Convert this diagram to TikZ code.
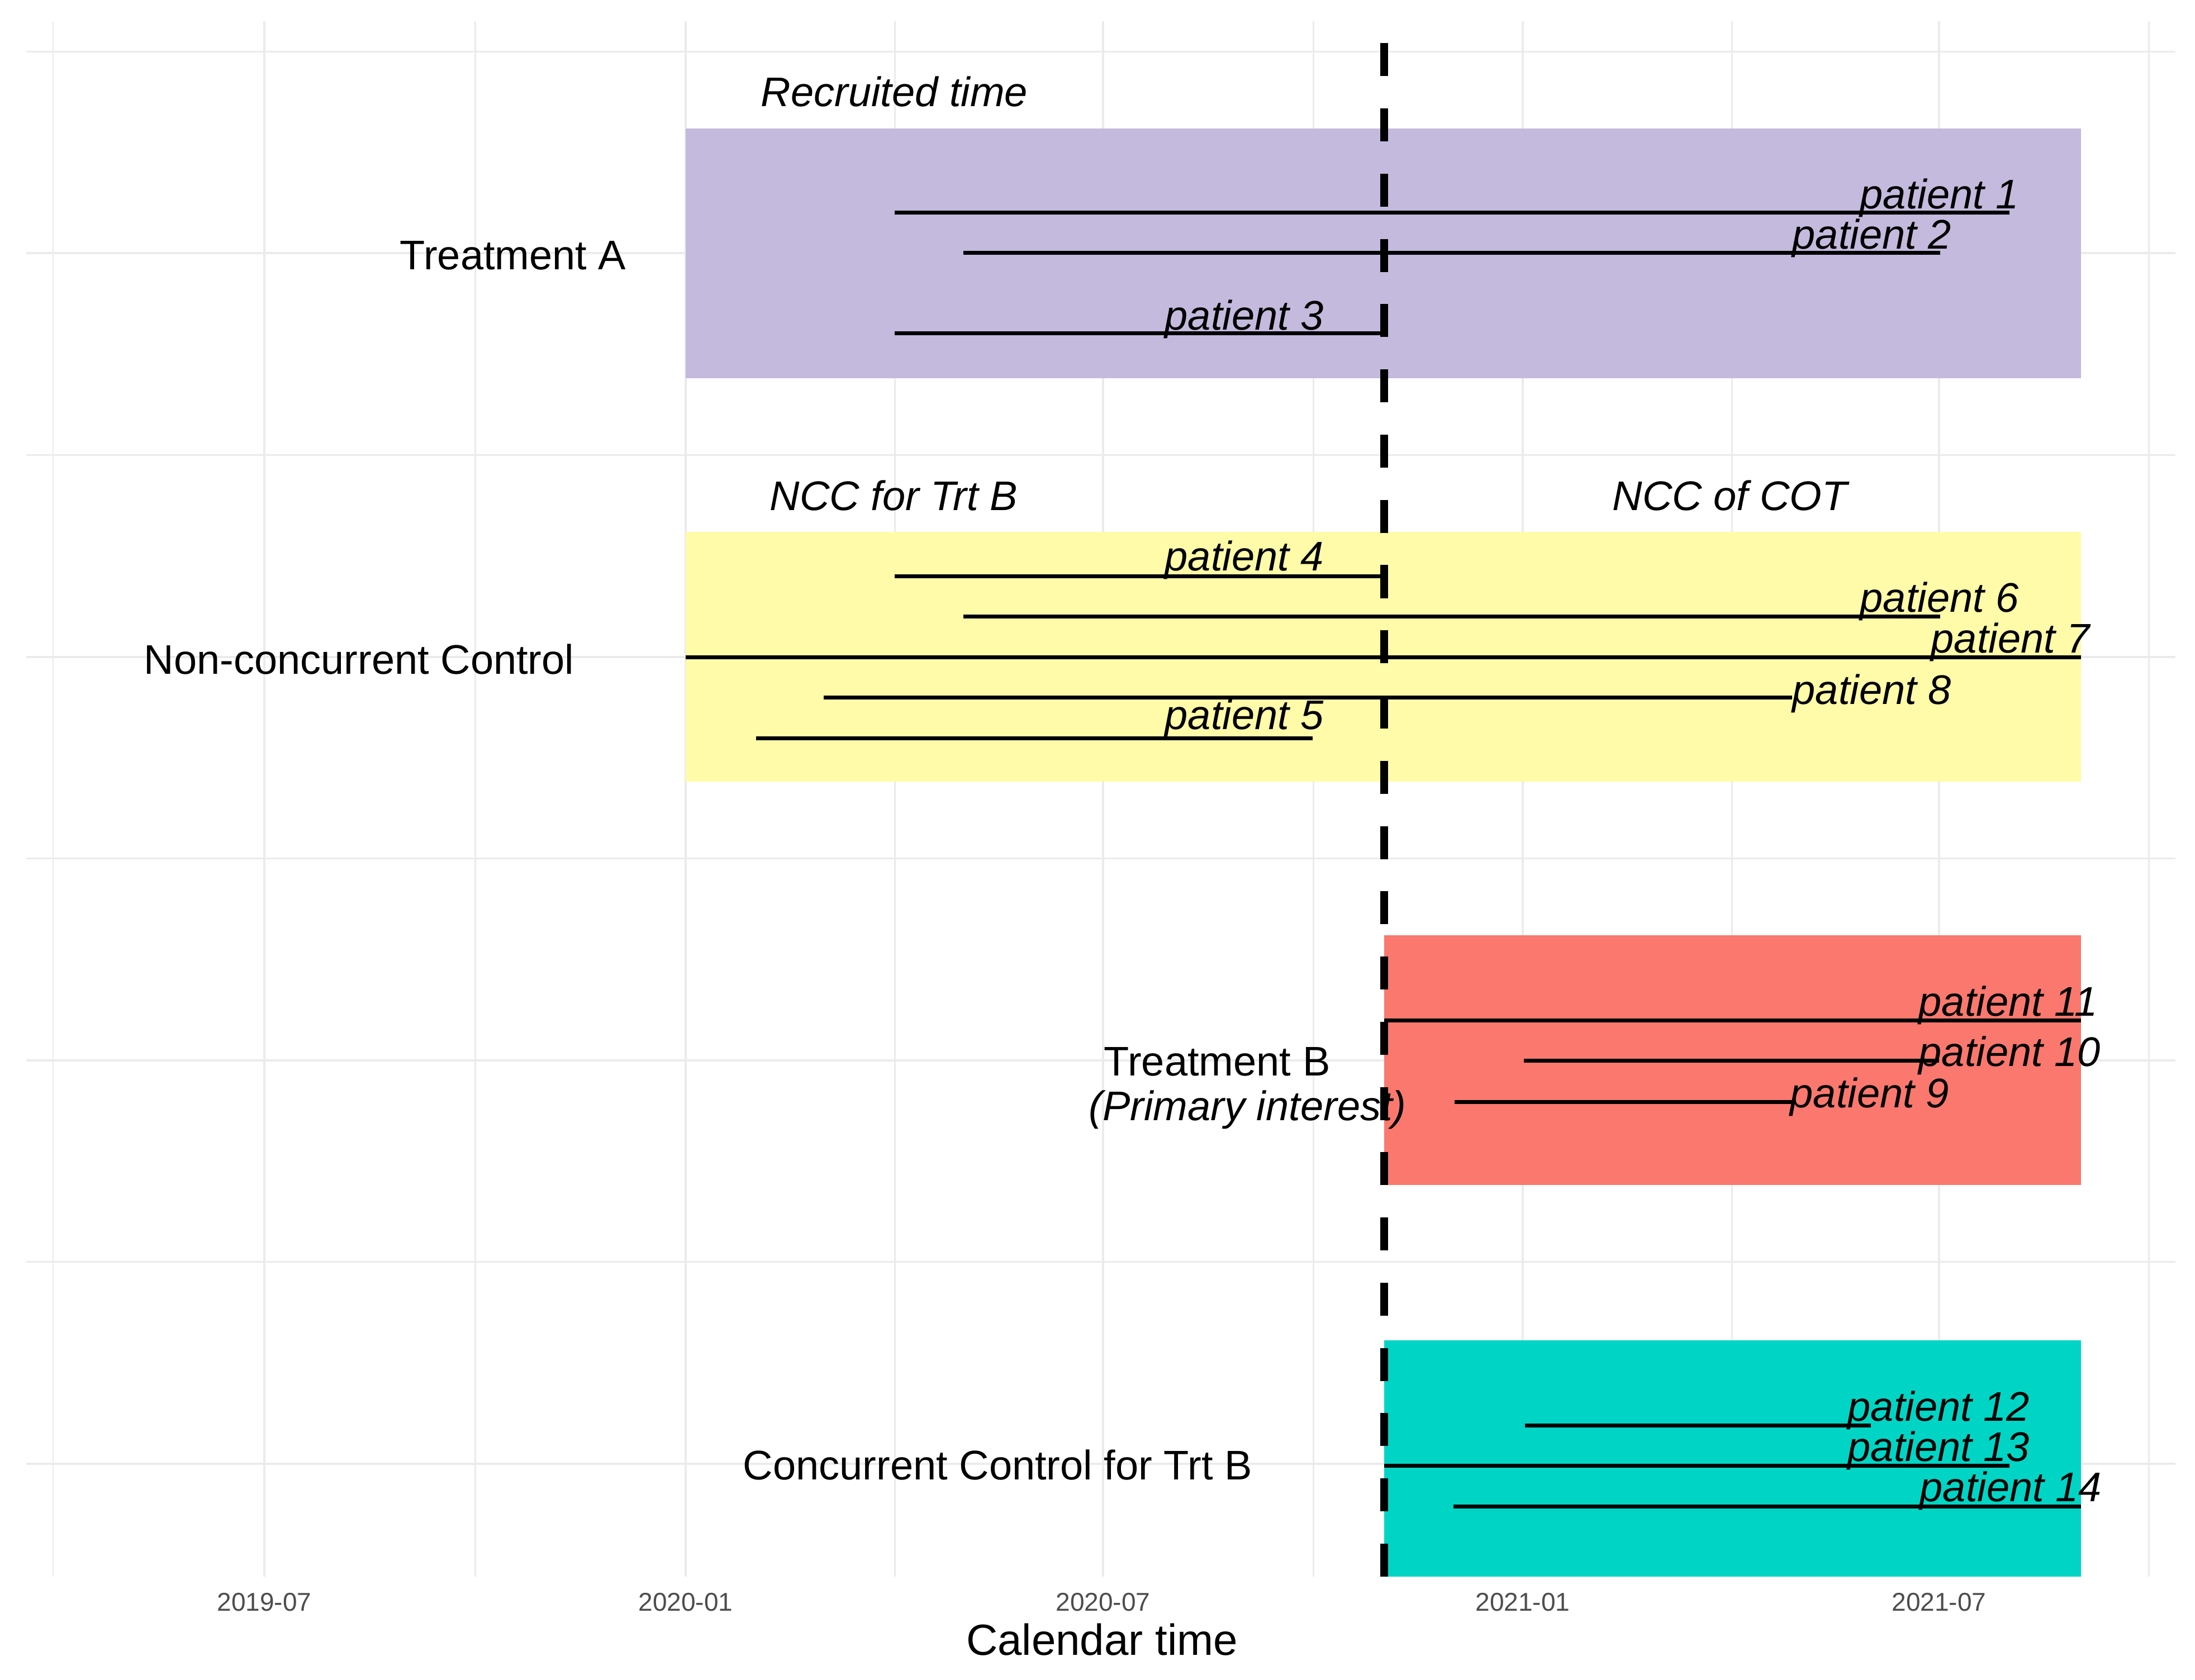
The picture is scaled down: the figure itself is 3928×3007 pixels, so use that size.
\documentclass[tikz,border=0pt]{standalone}
\usepackage{fontspec}
\setmainfont{Liberation Sans}
\definecolor{gridc}{HTML}{EBEBEB}
\definecolor{trtAcol}{HTML}{C3BADD}
\definecolor{ncccol}{HTML}{FFFBA8}
\definecolor{trtBcol}{HTML}{FA786E}
\definecolor{cccol}{HTML}{00D5C5}
\definecolor{tickcol}{HTML}{4D4D4D}
\newcommand{\mylblfont}{\fontsize{21.06pt}{25pt}\selectfont}
\newcommand{\myxlabfont}{\fontsize{22.2pt}{26pt}\selectfont}
\newcommand{\mytickfont}{\fontsize{13.1pt}{15pt}\selectfont}
\tikzset{
  majgrid/.style={draw=gridc, line width=1.14pt},
  mingrid/.style={draw=gridc, line width=0.85pt},
  band/.style={draw=none},
  pline/.style={line width=1.99pt, black},
  cutline/.style={line width=3.98pt, black, dash pattern=on 0.59cm off 0.577cm},
  grplab/.style={font=\mylblfont, anchor=base west, inner sep=0pt},
  patlab/.style={font=\mylblfont\itshape, anchor=base west, inner sep=0pt},
  ticklab/.style={font=\mytickfont, text=tickcol, anchor=base, inner sep=0pt},
}
\begin{document}
\begin{tikzpicture}[x=0.01cm, y=-0.01cm]
\useasboundingbox[fill=white] (0,0) rectangle (3928,3007);
% grid
\foreach \yy in {92.5,814.5,1536.5,2258.5} \draw[mingrid] (47,\yy) -- (3893,\yy);
\foreach \yy in {453.5,1175.5,1897.5,2620} \draw[majgrid] (47,\yy) -- (3893,\yy);
\foreach \xx in {95,850,1601,2350,3099,3845} \draw[mingrid] (\xx,38) -- (\xx,2822);
\foreach \xx in {473,1227,1974,2725,3470} \draw[majgrid] (\xx,38) -- (\xx,2822);
% bands
\fill[trtAcol] (1227,230) rectangle (3724,677);
\fill[ncccol] (1227,952) rectangle (3724,1399);
\fill[trtBcol] (2477,1674) rectangle (3724,2121);
\fill[cccol] (2477,2399) rectangle (3724,2822);
% patient lines
\coordinate (p1a) at (1601,381);  \coordinate (p1b) at (3596,381);
\coordinate (p2a) at (1724,453);  \coordinate (p2b) at (3472,453);
\coordinate (p3a) at (1601,597);  \coordinate (p3b) at (2477,597);
\coordinate (p4a) at (1601,1031); \coordinate (p4b) at (2477,1031);
\coordinate (p6a) at (1724,1103); \coordinate (p6b) at (3472,1103);
\coordinate (p7a) at (1227,1176); \coordinate (p7b) at (3724,1176);
\coordinate (p8a) at (1474,1248); \coordinate (p8b) at (3207,1248);
\coordinate (p5a) at (1353,1321); \coordinate (p5b) at (2349,1321);
\coordinate (p11a) at (2477,1826); \coordinate (p11b) at (3724,1826);
\coordinate (p10a) at (2727,1898); \coordinate (p10b) at (3470,1898);
\coordinate (p9a) at (2603,1972); \coordinate (p9b) at (3207,1972);
\coordinate (p12a) at (2729,2551); \coordinate (p12b) at (3348,2551);
\coordinate (p13a) at (2477,2623); \coordinate (p13b) at (3596,2623);
\coordinate (p14a) at (2601,2696); \coordinate (p14b) at (3724,2696);
\foreach \pp in {1,2,3,4,5,6,7,8,9,10,11,12,13,14} \draw[pline] (p\pp a) -- (p\pp b);
% dashed cut-off line
\coordinate (cutbot) at (2477,2822);
\coordinate (cuttop) at (2477,38);
\draw[cutline] (cutbot) -- (cuttop);
% patient labels
\node[patlab] (l1) at (3328,374) {patient 1};
\node[patlab] (l2) at (3207,446) {patient 2};
\node[patlab] (l3) at (2084,591) {patient 3};
\node[patlab] (l4) at (2084,1021) {patient 4};
\node[patlab] (l6) at (3328,1095) {patient 6};
\node[patlab] (l7) at (3455,1168) {patient 7};
\node[patlab] (l8) at (3207,1260) {patient 8};
\node[patlab] (l5) at (2084,1305) {patient 5};
\node[patlab] (l11) at (3433,1818) {patient 11};
\node[patlab] (l10) at (3433,1908) {patient 10};
\node[patlab] (l9) at (3203,1982) {patient 9};
\node[patlab] (l12) at (3306,2543) {patient 12};
\node[patlab] (l13) at (3306,2615) {patient 13};
\node[patlab] (l14) at (3435,2687) {patient 14};
% annotations
\node[patlab] (rec) at (1361,191) {Recruited time};
\node[patlab] (nccb) at (1377,913) {NCC for Trt B};
\node[patlab] (ncccot) at (2885,913) {NCC of COT};
% group labels
\node[grplab] (gA) at (715,483) {Treatment A};
\node[grplab] (gN) at (257,1206) {Non-concurrent Control};
\node[grplab] (gB) at (1975,1925) {Treatment B};
\node[patlab] (gBi) at (1948,2005) {(Primary interest)};
\node[grplab] (gC) at (1329,2648) {Concurrent Control for Trt B};
% axis
\node[ticklab] (t1) at (473,2883) {2019-07};
\node[ticklab] (t2) at (1227,2883) {2020-01};
\node[ticklab] (t3) at (1974,2883) {2020-07};
\node[ticklab] (t4) at (2725,2883) {2021-01};
\node[ticklab] (t5) at (3470,2883) {2021-07};
\node[font=\myxlabfont, anchor=base, inner sep=0pt] (xlab) at (1972,2962) {Calendar time};
\end{tikzpicture}
\end{document}
